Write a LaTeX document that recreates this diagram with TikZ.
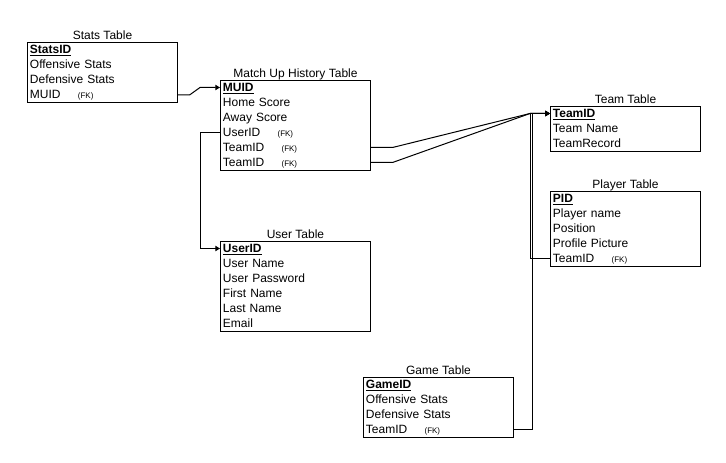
\documentclass[tikz,border=0pt]{standalone}
\usepackage{fontspec}
\setmainfont{Liberation Sans}
\usetikzlibrary{calc,arrows.meta,positioning}

\newcommand{\pk}[1]{\underline{\textbf{#1}}}
\newcommand{\fk}{\hspace{13pt}{\fontsize{6}{7}\selectfont(FK)}}

\begin{document}
\begin{tikzpicture}[x=0.75pt,y=-0.75pt]

  % Parameters
  \def\wtab{150}
  \def\rowh{15}

  % Styles
  \tikzstyle{table}=[draw,line width=0.75pt,anchor=north west,minimum width=112.5pt,inner sep=0pt]
  \tikzstyle{row}=[anchor=west,font=\fontsize{9}{11}\selectfont,text width=108.5pt,align=left,minimum height=11.25pt,text height=7pt,text depth=1.5pt,inner xsep=2pt,inner ysep=0pt]
  \tikzstyle{caption}=[anchor=base,font=\fontsize{9}{11}\selectfont,inner sep=0pt]
  \tikzstyle{link}=[line width=0.75pt,-{Triangle[length=3.5pt,width=4pt]}]

  % \dbtable{<id>}{<pos>}{<rows>}{<title>}{<fields>}
  \DeclareDocumentCommand \dbtable { m m m m m }{%
    \path #2 node[table,minimum height=#3*11.25pt] (#1) {};
    \node[caption] (#1-title) at ($(#1.north)+(0,-2.7)$) {#4};
    \foreach \txt [count=\i] in {#5}
      \node[row] (#1-\i) at ($(#1.north west)+(0,{(\i-0.5)*\rowh})$) {\txt};
  }

  % ===========================================================================

  % Fix page size
  \fill[white] (0,0) rectangle (726,463);
  \useasboundingbox (0,0) rectangle (726,463);

  % Draw tables
  \dbtable{stats}{(27,42.5)}{4}{Stats Table}{\pk{StatsID},Offensive Stats,Defensive Stats,MUID\fk}
  \dbtable{match}{(220,80)}{6}{Match Up History Table}{\pk{MUID},Home Score,Away Score,UserID\fk,TeamID\fk,TeamID\fk}
  \dbtable{team}{(550,106)}{3}{Team Table}{\pk{TeamID},Team Name,TeamRecord}
  \dbtable{player}{(550,191)}{5}{Player Table}{\pk{PID},Player name,Position,Profile Picture,TeamID\fk}
  \dbtable{user}{(220,241)}{6}{User Table}{\pk{UserID},User Name,User Password,First Name,Last Name,Email}
  \dbtable{game}{(363,377)}{4}{Game Table}{\pk{GameID},Offensive Stats,Defensive Stats,TeamID\fk}

  % Draw links
  \coordinate (hub) at ($(team-1.west)+(-20,0)$);
  \draw[link] (stats-4.east) -- ++(12,0) -- ($(match-1.west)+(-20,0)$) -- (match-1.west);
  \draw[link] (match-4.west) -- ++(-20,0) |- (user-1.west);
  \draw[link] (match-5.east) -- ++(22,0) -- (hub) -- (team-1.west);
  \draw[link] (match-6.east) -- ++(22,0) -- (hub) -- (team-1.west);
  \draw[link] (player-5.west) -- (player-5.west -| hub) -- (hub) -- (team-1.west);
  \draw[link] (game-4.east) -- ++(19,0) |- (team-1.west);

\end{tikzpicture}
\end{document}
